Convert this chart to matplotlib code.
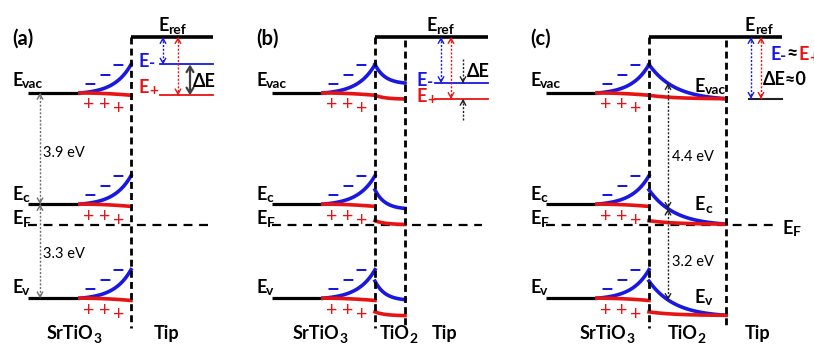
import numpy as np
import matplotlib.pyplot as plt

plt.rcParams['font.family'] = ['Lato', 'DejaVu Sans']

BLUE = '#1818e0'
RED = '#e81414'
GREY = '#707070'

# energies in eV, bulk SrTiO3 vacuum level = 0
band_names = ['vac', 'c', 'v']
band_E = [0.0, -3.9, -7.2]
E_F = -4.63
E_ref = 1.96
bend_neg = 1.0      # upward bending at the SrTiO3 surface, negative charge
bend_pos = 0.08     # downward bending, positive charge
tio2_vac_c = 4.4
tio2_c_v = 3.2
# TiO2 vacuum level at the tip side, panels (b) and (c)
tio2_end_neg = [0.35, -0.2]
tio2_end_pos = [-0.21, -0.2]
panel_tags = ['(a)', '(b)', '(c)']

# horizontal layout of the three sketches (x in figure pixels)
x_left = [28, 272, 546]
x_bend = [80, 323, 597]
x_int = [131, 375, 649]
x_tio2 = [None, 405, 726]
x_right = [213, 488, 782]
x_ef_end = [213, 482, 775]
x_tipline = [160, 435, 749]
x_arrow_blue = [163, 441, 751]
x_arrow_red = [178, 451, 761]
x_ref_label = [158, 426, 745]
x_sto_label = [47, 293, 580]

# surface charge symbols: x offset from bend start, energy offset from band
minus_dx = [10, 25, 38]
minus_de = [0.3, 0.62, 0.97]
plus_dx = [9, 25, 39]
plus_de = [-0.42, -0.42, -0.56]
label_de = [0.25, 0.15, 0.18]

BOTTOM = -8.63


def rise(x0, x1, e0, de, k=3.0, n=80):
    t = np.linspace(0, 1, n)
    return x0 + (x1 - x0) * t, e0 + de * (np.exp(k * t) - 1) / (np.exp(k) - 1)


def sag(x0, x1, e0, de, n=80):
    t = np.linspace(0, 1, n)
    return x0 + (x1 - x0) * t, e0 - de * t ** 2


def decay(x0, x1, e0, e1, k=3.0, n=80):
    t = np.linspace(0, 1, n)
    f = (np.exp(-k * t) - np.exp(-k)) / (1 - np.exp(-k))
    return x0 + (x1 - x0) * t, e1 + (e0 - e1) * f


def head(x, e_from, e_to, color, lw):
    ax.annotate('', xy=(x, e_to), xytext=(x, e_from),
                arrowprops=dict(arrowstyle='->,head_length=0.35,head_width=0.2',
                                color=color, lw=lw, shrinkA=0, shrinkB=0))


def dotted_arrow(x, e0, e1, color, lw=1.0, heads=(True, True)):
    ax.plot([x, x], [e0, e1], color=color, lw=lw, ls=(0, (1.5, 1.2)))
    s = np.sign(e1 - e0) * 0.12
    if heads[0]:
        head(x, e0 + s, e0, color, lw)
    if heads[1]:
        head(x, e1 - s, e1, color, lw)


def sublabel(x, e, main, sub, color='black', size=13, subsize=10, drop=0.5):
    """Bold text with a bold subscript hanging off its right edge."""
    t = ax.text(x, e, main, color=color, fontsize=size, fontweight='bold',
                ha='left', va='baseline')
    s = ax.annotate(sub, xy=(1, 0), xycoords=t, xytext=(0, drop),
                    textcoords='offset points', color=color, fontsize=subsize,
                    fontweight='bold', ha='left', va='baseline')
    return t, s


fig = plt.figure(figsize=(8.14, 3.44), dpi=100)
ax = fig.add_axes([0, 0, 1, 1])
ax.set_xlim(0, 814)
ax.set_ylim(-8.807, 3.263)
ax.axis('off')

for i in range(3):
    xl, xb, xi, xr = x_left[i], x_bend[i], x_int[i], x_right[i]

    ax.text(xl - 16, E_ref - 0.04, panel_tags[i], fontsize=14.5, fontweight='bold',
            ha='left', va='center')

    for j, e in enumerate(band_E):
        ax.plot([xl, xb], [e, e], color='black', lw=2.3, solid_capstyle='butt')
        ax.plot(*rise(xb, xi, e, bend_neg), color=BLUE, lw=2.6)
        ax.plot(*sag(xb, xi, e, bend_pos), color=RED, lw=2.6)
        for dx, de in zip(minus_dx, minus_de):
            ax.text(xb + dx, e + de, '\u2212', color=BLUE, fontsize=16,
                    fontweight='bold', ha='center', va='center')
        for dx, de in zip(plus_dx, plus_de):
            ax.text(xb + dx, e + de, '+', color=RED, fontsize=14,
                    ha='center', va='center')
        sublabel(xl - 16, e + label_de[j], 'E', band_names[j])

    # Fermi level
    ax.plot([xl, x_ef_end[i]], [E_F, E_F], color='black', lw=1.6,
            ls=(0, (4, 3)))
    sublabel(xl - 16, E_F + 0.02, 'E', 'F')

    # TiO2 interlayer
    if i > 0:
        xt = x_tio2[i]
        end_neg = tio2_end_neg[i - 1]
        end_pos = tio2_end_pos[i - 1]
        for shift in [0.0, -tio2_vac_c, -tio2_vac_c - tio2_c_v]:
            ax.plot(*decay(xi, xt, band_E[0] + bend_neg + shift, end_neg + shift),
                    color=BLUE, lw=2.6)
            ax.plot(*decay(xi, xt, band_E[0] - bend_pos + shift, end_pos + shift),
                    color=RED, lw=2.6)
        e_minus, e_plus = end_neg, end_pos
        ax.plot([xt, xt], [E_ref - 0.1, -8.25], color='black', lw=2,
                ls=(0, (2.5, 1.5)), zorder=5)
    else:
        e_minus = band_E[0] + bend_neg
        e_plus = band_E[0] - bend_pos

    # tip reference level
    ax.plot([xi, xr], [E_ref, E_ref], color='black', lw=2.6, solid_capstyle='butt')
    ax.plot([xi, xi], [E_ref, -8.25], color='black', lw=2, ls=(0, (2.5, 1.5)),
            zorder=5)
    sublabel(x_ref_label[i], E_ref + 0.2, 'E', 'ref')

    xa = x_tipline[i]
    if i < 2:
        ax.plot([xa, xr], [e_minus, e_minus], color=BLUE, lw=1.3)
        ax.plot([xa, xr], [e_plus, e_plus], color=RED, lw=1.3)
    else:
        ax.plot([xa, xr], [e_minus, e_minus], color='#222222', lw=1.5)
    dotted_arrow(x_arrow_blue[i], E_ref, e_minus, BLUE)
    dotted_arrow(x_arrow_red[i], E_ref, e_plus, RED)

    sublabel(x_sto_label[i], BOTTOM, 'SrTiO', '3', drop=-0.5)

# (a): E- / E+ and the energy splitting
sublabel(139, 1.0 - 0.09, 'E', '-', color=BLUE, subsize=12, drop=1.5)
sublabel(139, -0.08 + 0.08, 'E', '+', color=RED, subsize=11)
ax.annotate('', xy=(190, -0.08), xytext=(190, 1.0),
            arrowprops=dict(arrowstyle='<->,head_length=0.4,head_width=0.25',
                            color='#404040', lw=1.6, shrinkA=0, shrinkB=0))
ax.text(193, 0.21, '\u0394E', fontsize=13, fontweight='bold', va='baseline')
dotted_arrow(40, band_E[0], band_E[1], GREY)
dotted_arrow(40, band_E[1], band_E[2], GREY)
ax.text(43, (band_E[0] + band_E[1]) / 2 - 0.15, '%.1f eV' % (band_E[0] - band_E[1]),
        fontsize=10.5, va='center')
ax.text(43, (band_E[1] + band_E[2]) / 2 - 0.1, '%.1f eV' % (band_E[1] - band_E[2]),
        fontsize=10.5, va='center')
ax.text(167, BOTTOM, 'Tip', fontsize=13, fontweight='bold', ha='center',
        va='baseline')

# (b)
e_minus_b, e_plus_b = tio2_end_neg[0], tio2_end_pos[0]
sublabel(417, e_minus_b - 0.12, 'E', '-', color=BLUE, subsize=12, drop=1.5)
sublabel(417, e_plus_b - 0.1, 'E', '+', color=RED, subsize=11)
dotted_arrow(463, e_minus_b + 0.85, e_minus_b, '#222222', heads=(False, True))
dotted_arrow(463, e_plus_b - 0.75, e_plus_b, '#222222', heads=(False, True))
ax.text(467, 0.56, '\u0394E', fontsize=13, fontweight='bold', va='baseline')
sublabel(380, BOTTOM, 'TiO', '2', drop=-0.5)
ax.text(445, BOTTOM, 'Tip', fontsize=13, fontweight='bold', ha='center',
        va='baseline')

# (c): gaps inside TiO2
xg = 668
t_g = (xg - x_int[2]) / (x_tio2[2] - x_int[2])
f_g = (np.exp(-3 * t_g) - np.exp(-3)) / (1 - np.exp(-3))
vac_g = tio2_end_neg[1] + (bend_neg - tio2_end_neg[1]) * f_g
dotted_arrow(xg, vac_g, vac_g - tio2_vac_c, '#222222')
dotted_arrow(xg, vac_g - tio2_vac_c, vac_g - tio2_vac_c - tio2_c_v, '#222222')
ax.text(672, -2.25, '%.1f eV' % tio2_vac_c, fontsize=10.5, va='center')
ax.text(672, -5.93, '%.1f eV' % tio2_c_v, fontsize=10.5, va='center')
sublabel(695, 0.03, 'E', 'vac')
sublabel(695, -4.12, 'E', 'c')
sublabel(695, -7.37, 'E', 'v')
sublabel(783, E_F - 0.32, 'E', 'F')
sublabel(770, 1.16, 'E', '-', color=BLUE, subsize=12, drop=1.5)
ax.text(786, 1.2, '\u2248', fontsize=14, fontweight='bold', va='baseline')
sublabel(799, 1.16, 'E', '+', color=RED, subsize=11)
ax.text(763, 0.28, '\u0394E\u22480', fontsize=13, fontweight='bold', va='baseline')
sublabel(668, BOTTOM, 'TiO', '2', drop=-0.5)
ax.text(758, BOTTOM, 'Tip', fontsize=13, fontweight='bold', ha='center',
        va='baseline')

fig.savefig('out.png', dpi=100)
